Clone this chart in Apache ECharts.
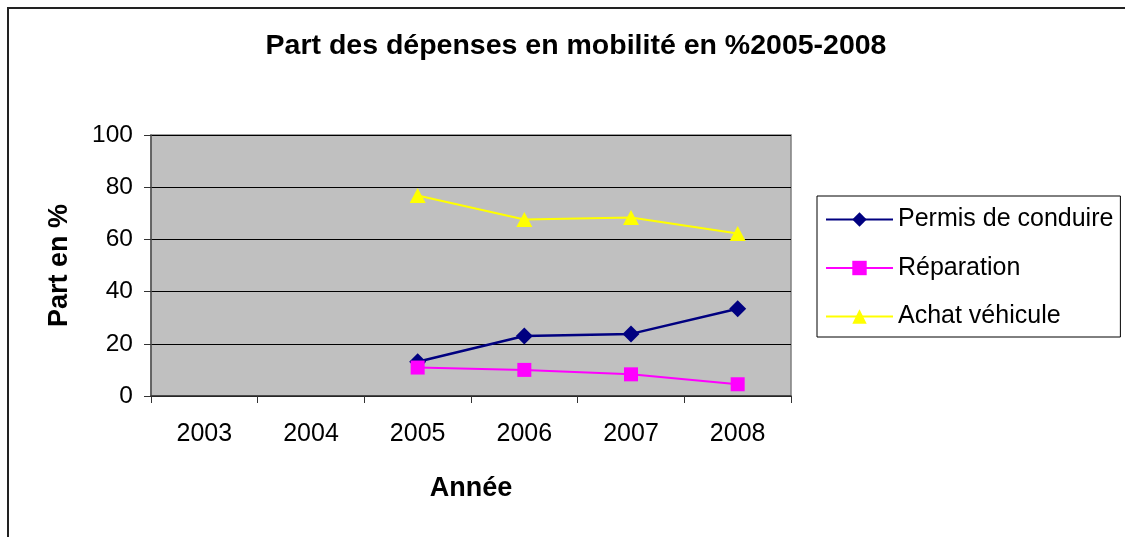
<!DOCTYPE html>
<html>
<head>
<meta charset="utf-8">
<script src="https://cdn.jsdelivr.net/npm/echarts@6/dist/echarts.min.js"></script>
<style>
html,body{margin:0;padding:0;background:#fff;}
#chart{width:1125px;height:537px;}
</style>
</head>
<body>
<div id="chart"></div>
<script>
const categories = ['2003', '2004', '2005', '2006', '2007', '2008'];
const permis = [null, null, 13.1, 23.0, 23.8, 33.4];
const reparation = [null, null, 10.9, 10.0, 8.3, 4.5];
const achat = [null, null, 76.8, 67.6, 68.4, 62.3];
const yTicks = [0, 20, 40, 60, 80, 100];

const FONT = '"Liberation Sans", Arial, sans-serif';
const chart = echarts.init(document.getElementById('chart'));
chart.setOption({
  backgroundColor: '#ffffff',
  animation: false,
  textStyle: { fontFamily: FONT },
  graphic: [{
    type: 'rect',
    shape: { x: 8, y: 8, width: 1130, height: 540 },
    style: { fill: 'none', stroke: '#222', lineWidth: 2 },
    silent: true, z: -1
  }],
  title: {
    text: 'Part des dépenses en mobilité en %2005-2008',
    left: 571, top: 27, textAlign: 'center',
    textStyle: { fontFamily: FONT, fontSize: 28.5, fontWeight: 'bold', color: '#000' }
  },
  legend: {
    orient: 'vertical',
    left: 817, top: 196,
    padding: [11, 7, 8, 8],
    borderColor: '#000', borderWidth: 1,
    itemWidth: 67, itemHeight: 18, itemGap: 23.5,
    textStyle: { fontFamily: FONT, fontSize: 25, color: '#000', lineHeight: 24 },
    data: ['Permis de conduire', 'Réparation', 'Achat véhicule']
  },
  grid: {
    left: 151, right: 334, top: 135, bottom: 141,
    show: true, backgroundColor: '#c0c0c0', borderColor: '#808080', borderWidth: 1.5
  },
  xAxis: {
    type: 'category', data: categories, boundaryGap: true,
    name: 'Année', nameLocation: 'middle', nameGap: 79,
    nameTextStyle: { fontFamily: FONT, fontSize: 27, fontWeight: 'bold', color: '#000' },
    axisLine: { lineStyle: { color: '#333', width: 1.5 } },
    axisTick: { show: true, inside: false, length: 7, alignWithLabel: false, lineStyle: { color: '#333' } },
    axisLabel: { fontFamily: FONT, fontSize: 25, color: '#000', margin: 26 },
    splitLine: { show: false }
  },
  yAxis: {
    type: 'value', min: 0, max: 100, interval: 20,
    name: 'Part en %', nameLocation: 'middle', nameGap: 78,
    nameTextStyle: { fontFamily: FONT, fontSize: 27, fontWeight: 'bold', color: '#000' },
    axisLine: { show: true, lineStyle: { color: '#555', width: 1.5 } },
    axisTick: { show: true, length: 7, lineStyle: { color: '#333' } },
    axisLabel: { fontFamily: FONT, fontSize: 24.5, color: '#000', margin: 18,
      formatter: v => yTicks.includes(v) ? String(v) : '' },
    splitLine: { show: true, lineStyle: { color: '#000', width: 1 } }
  },
  series: [
    { name: 'Permis de conduire', type: 'line', data: permis, connectNulls: false,
      symbol: 'diamond', symbolSize: [17, 17],
      lineStyle: { color: '#000080', width: 2.5 }, itemStyle: { color: '#000080' } },
    { name: 'Réparation', type: 'line', data: reparation,
      symbol: 'rect', symbolSize: 14,
      lineStyle: { color: '#ff00ff', width: 2 }, itemStyle: { color: '#ff00ff' } },
    { name: 'Achat véhicule', type: 'line', data: achat,
      symbol: 'triangle', symbolSize: [16, 15],
      lineStyle: { color: '#ffff00', width: 2 }, itemStyle: { color: '#ffff00' } }
  ]
});
</script>
</body>
</html>
